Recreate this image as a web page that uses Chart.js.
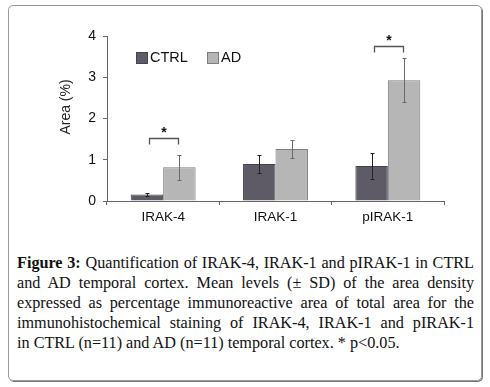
<!DOCTYPE html>
<html>
<head>
<meta charset="utf-8">
<script src="https://cdn.jsdelivr.net/npm/chart.js@4.4.1/dist/chart.umd.min.js"></script>
<style>
  html, body { margin: 0; padding: 0; background: #fff; }
  #wrap { position: relative; width: 490px; height: 387px; overflow: hidden; }
  #frame {
    position: absolute; left: 8px; top: 5px; width: 472px; height: 374px;
    border: 1px solid #9a9a9a; border-radius: 5px;
    box-shadow: 1px 1px 0 #777;
  }
  #chartBox { position: absolute; left: 0; top: 0; width: 490px; height: 235px; }
  #caption {
    position: absolute; left: 17px; top: 253px; width: 457px;
    font-family: "Liberation Serif", "DejaVu Serif", serif;
    font-size: 16.2px; line-height: 20px; color: #111;
  }
  #caption span { display: block; white-space: nowrap; text-align: justify; text-align-last: justify; }
  #caption span.last { text-align-last: left; }
  #caption b { font-weight: bold; }
</style>
</head>
<body>
<div id="wrap">
  <div id="frame"></div>
  <div id="chartBox"><canvas id="chart" width="490" height="235"></canvas></div>
  <div id="caption">
    <span><b>Figure 3:</b> Quantification of IRAK-4, IRAK-1 and pIRAK-1 in CTRL</span>
    <span>and AD temporal cortex. Mean levels (± SD) of the area density</span>
    <span>expressed as percentage immunoreactive area of total area for the</span>
    <span>immunohistochemical staining of IRAK-4, IRAK-1 and pIRAK-1</span>
    <span class="last">in CTRL (n=11) and AD (n=11) temporal cortex. * p&lt;0.05.</span>
  </div>
</div>
<script>
const categories = ['IRAK-4', 'IRAK-1', 'pIRAK-1']
const ctrlValues = [0.16, 0.90, 0.85]
const ctrlErrors = [0.04, 0.21, 0.31]
const adValues = [0.82, 1.26, 2.93]
const adErrors = [0.30, 0.22, 0.54]
const yTicks = [0, 1, 2, 3, 4]
// categories with a significant difference, and bracket height (in data units)
const sigCategories = [0, 2]
const sigLevels = [1.52, 3.75]

const font = '"Liberation Sans", Arial, sans-serif'

const errorBars = {
  id: 'errorBars',
  afterDatasetsDraw(chart) {
    const ctx = chart.ctx
    const y = chart.scales.y
    ctx.save()
    chart.data.datasets.forEach((ds, di) => {
      const meta = chart.getDatasetMeta(di)
      meta.data.forEach((bar, i) => {
        const v = ds.data[i]
        const e = ds.errors[i]
        const top = Math.round(y.getPixelForValue(v + e)) + 0.5
        const bot = Math.round(y.getPixelForValue(v - e)) + 0.5
        const x = Math.round(bar.x) + 0.5
        ctx.strokeStyle = ds.errorColor
        ctx.lineWidth = 1
        ctx.beginPath()
        ctx.moveTo(x, top); ctx.lineTo(x, bot)
        ctx.moveTo(x - 2, top); ctx.lineTo(x + 2, top)
        ctx.moveTo(x - 2, bot); ctx.lineTo(x + 2, bot)
        ctx.stroke()
      })
    })

    // significance brackets
    const m0 = chart.getDatasetMeta(0)
    const m1 = chart.getDatasetMeta(1)
    sigCategories.forEach((c, k) => {
      const yy = Math.round(y.getPixelForValue(sigLevels[k])) + 0.5
      const x0 = Math.round(m0.data[c].x) + 2.5
      const x1 = Math.round(m1.data[c].x) - 0.5
      ctx.strokeStyle = '#555'
      ctx.lineWidth = 1.3
      ctx.beginPath()
      ctx.moveTo(x0, yy + 6); ctx.lineTo(x0, yy); ctx.lineTo(x1, yy); ctx.lineTo(x1, yy + 6)
      ctx.stroke()
      ctx.fillStyle = '#111'
      ctx.font = 'bold 14px ' + font
      ctx.textAlign = 'center'
      ctx.textBaseline = 'middle'
      ctx.fillText('*', (x0 + x1) / 2, yy - 5)
    })

    // legend
    const lx = [136, 207]
    ctx.textAlign = 'left'
    ctx.textBaseline = 'middle'
    ctx.font = '14.5px ' + font
    chart.data.datasets.forEach((ds, di) => {
      ctx.fillStyle = ds.backgroundColor
      ctx.fillRect(lx[di], 52, 11, 11)
      ctx.strokeStyle = ds.borderColor
      ctx.lineWidth = 1
      ctx.strokeRect(lx[di] + 0.5, 52.5, 11, 11)
      ctx.fillStyle = '#111'
      ctx.fillText(ds.label, lx[di] + 14, 58)
    })

    // y axis title
    ctx.save()
    ctx.translate(66, 107)
    ctx.rotate(-Math.PI / 2)
    ctx.textAlign = 'center'
    ctx.font = '14px ' + font
    ctx.fillStyle = '#222'
    ctx.fillText('Area (%)', 0, 0)
    ctx.restore()
    ctx.restore()
  }
}

new Chart(document.getElementById('chart').getContext('2d'), {
  type: 'bar',
  data: {
    labels: categories,
    datasets: [
      {
        label: 'CTRL',
        data: ctrlValues,
        errors: ctrlErrors,
        backgroundColor: '#5e5b67',
        borderColor: '#45434b',
        errorColor: '#222',
        borderWidth: 1,
        borderSkipped: 'bottom'
      },
      {
        label: 'AD',
        data: adValues,
        errors: adErrors,
        backgroundColor: '#b6b6b6',
        borderColor: '#7c7c7c',
        errorColor: '#6a6a6a',
        borderWidth: 1,
        borderSkipped: 'bottom'
      },
    ],
  },
  options: {
    responsive: false,
    animation: false,
    categoryPercentage: 0.578,
    barPercentage: 1,
    layout: { padding: { left: 54, right: 46, top: 36, bottom: 0 } },
    plugins: {
      legend: { display: false },
      tooltip: { enabled: false },
    },
    scales: {
      x: {
        afterFit: s => { s.height = 34 },
        grid: {
          offset: true,
          drawOnChartArea: false,
          drawTicks: true,
          tickLength: 4,
          color: '#666',
        },
        border: { color: '#666', width: 1 },
        ticks: {
          color: '#111',
          padding: 4,
          font: { family: font, size: 13.5 },
        },
      },
      y: {
        min: 0,
        max: 4,
        afterFit: s => { s.width = 53 },
        afterBuildTicks: s => { s.ticks = yTicks.map(v => ({ value: v })) },
        grid: {
          drawOnChartArea: false,
          drawTicks: true,
          tickLength: 4,
          color: '#666',
        },
        border: { color: '#666', width: 1 },
        ticks: {
          color: '#111',
          padding: 7,
          font: { family: font, size: 14 },
        },
      },
    },
  },
  plugins: [errorBars],
})
</script>
</body>
</html>
